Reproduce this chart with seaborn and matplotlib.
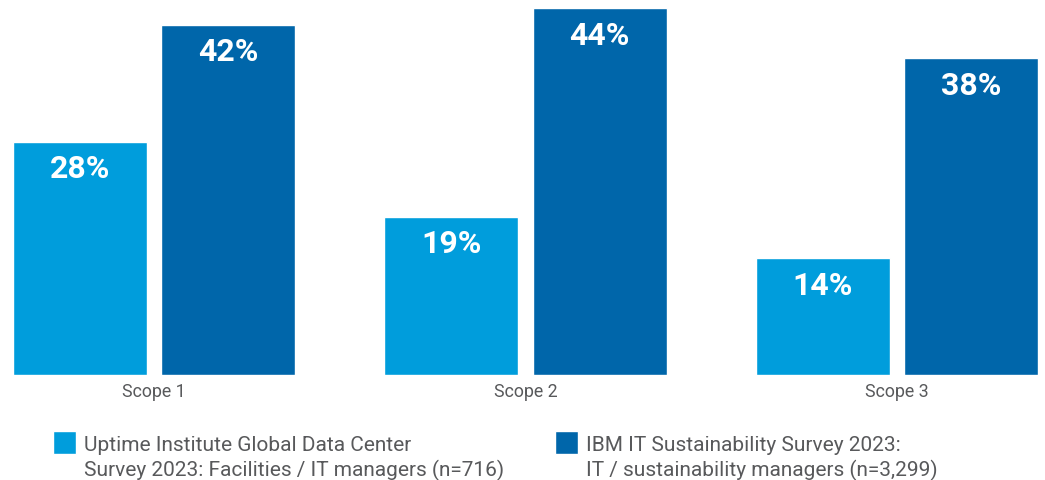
import matplotlib
matplotlib.use("Agg")
import matplotlib.pyplot as plt
import matplotlib.patches as mpatches
from matplotlib.legend_handler import HandlerPatch
import seaborn as sns
import pandas as pd

categories = ["Scope 1", "Scope 2", "Scope 3"]
uptime_values = [28, 19, 14]
ibm_values = [42, 44, 38]
series_names = [
    "Uptime Institute Global Data Center\nSurvey 2023: Facilities / IT managers (n=716)",
    "IBM IT Sustainability Survey 2023:\nIT / sustainability managers (n=3,299)",
]
colors = ["#009DDC", "#0066AA"]

df = pd.DataFrame({
    "scope": categories * 2,
    "value": uptime_values + ibm_values,
    "survey": [series_names[0]] * 3 + [series_names[1]] * 3,
})

sns.set_style("white")
plt.rcParams["font.family"] = ["Roboto", "DejaVu Sans"]

fig = plt.figure(figsize=(10.45, 4.81), dpi=100)
ax = fig.add_axes([0, 105 / 481, 1, 376 / 481])

sns.barplot(data=df, x="scope", y="value", hue="survey", palette=colors,
            width=0.8, gap=0.1, saturation=1, ax=ax, legend=True)

ax.set_xlim(-154 / 371.5, (1045 - 154) / 371.5)
ax.set_ylim(0, 376 / (350 / 42))
for s in ax.spines.values():
    s.set_visible(False)
ax.set_yticks([])
ax.set_xlabel("")
ax.set_ylabel("")
ax.tick_params(axis="x", length=0, pad=5, labelsize=12.8, labelcolor="#58595B")

for cont in ax.containers:
    for bar, v in zip(cont.patches, cont.datavalues):
        ax.annotate(f"{v:.0f}%", xy=(bar.get_x() + bar.get_width() / 2, bar.get_height()),
                    xytext=(0, -25.5), textcoords="offset points",
                    ha="center", va="baseline", color="white",
                    fontsize=23, fontweight="bold")


def top_square(legend, orig_handle, xdescent, ydescent, width, height, fontsize):
    size = width
    return mpatches.Rectangle((-xdescent, -ydescent + height - size + 8), size, size)


handles, labels = ax.get_legend_handles_labels()
ax.get_legend().remove()
leg = fig.legend(handles, labels, loc="upper left", bbox_to_anchor=(53 / 1045, 1 - 436 / 481),
                 ncol=2, frameon=False, fontsize=15, handlelength=1.1, handleheight=2.0,
                 handletextpad=0.38, columnspacing=2.45, borderpad=0, borderaxespad=0,
                 labelcolor="#58595B",
                 handler_map={mpatches.Rectangle: HandlerPatch(patch_func=top_square)})
for t in leg.get_texts():
    t.set_linespacing(1.3)

fig.savefig("out.png", dpi=100)
